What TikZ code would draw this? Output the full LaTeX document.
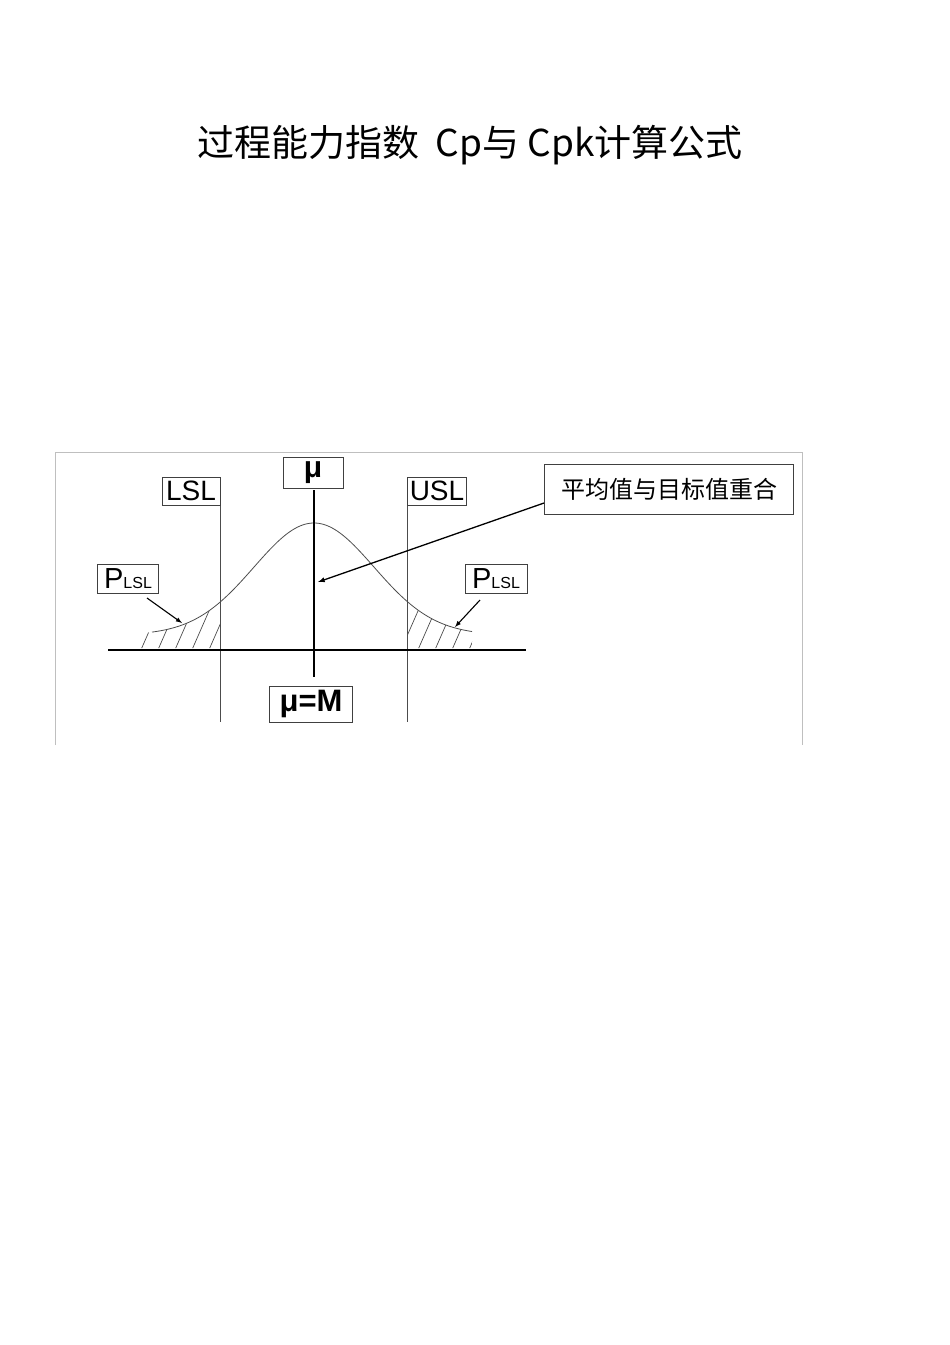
\documentclass[tikz,border=0pt]{standalone}
\usepackage{fontspec}
\setmainfont{Liberation Sans}
\newfontfamily\cjk{Noto Sans CJK SC}
\begin{document}
\begin{tikzpicture}[x=1pt,y=-1pt,
  lbl/.style={draw=black!75,line width=0.9pt,inner sep=1pt,font=\fontsize{28}{28}\selectfont},
  thin/.style={draw=black!70,line width=0.8pt}]
\useasboundingbox (0,0) rectangle (950,1345);
\node[font=\cjk\fontsize{37}{37}\selectfont] (title) at (470,145) {过程能力指数\ \ Cp与 Cpk计算公式};
\draw[black!25,line width=0.8pt] (55,745) -- (55,452) -- (802,452) -- (802,745);
% curve and hatching
\begin{scope}
\clip plot[domain=140:220,samples=40] (\x,{635-112*exp(-((\x-314)/60)^2/2)}) -- (220,648) -- (140,648) -- cycle;
\foreach \i in {0,...,8} \draw[black!70,line width=0.7pt] (140+\i*17,652) -- (165+\i*17,595);
\end{scope}
\begin{scope}
\clip plot[domain=407:472,samples=40] (\x,{635-112*exp(-((\x-314)/60)^2/2)}) -- (472,648) -- (407,648) -- cycle;
\foreach \i in {0,...,6} \draw[black!70,line width=0.7pt] (400+\i*17,652) -- (425+\i*17,595);
\end{scope}
\draw[thin] plot[domain=152:472,samples=120] (\x,{635-112*exp(-((\x-314)/60)^2/2)});
\coordinate (lslT) at (220,480); \coordinate (lslB) at (220,722);
\coordinate (uslT) at (407,480); \coordinate (uslB) at (407,722);
\draw[thin] (lslT) -- (lslB);
\draw[thin] (uslT) -- (uslB);
\coordinate (axL) at (108,650); \coordinate (axR) at (526,650);
\draw[line width=2pt] (axL) -- (axR);
\coordinate (muT) at (314,490); \coordinate (muB) at (314,677);
\draw[line width=2pt] (muT) -- (muB);
\node[lbl,minimum width=60,minimum height=31,font=\bfseries\fontsize{30}{30}\selectfont] (mu) at (313,473) {μ};
\node[lbl,minimum width=58,minimum height=28] (lsl) at (191,491) {LSL};
\node[lbl,minimum width=59,minimum height=28] (usl) at (437,491) {USL};
\node[lbl,minimum width=83,minimum height=36,font=\bfseries\fontsize{31}{31}\selectfont] (muM) at (311,704) {μ=M};
\node[lbl,minimum width=249,minimum height=50,font=\cjk\fontsize{24}{24}\selectfont] (note) at (669,489) {平均值与目标值重合};
\node[lbl,minimum width=61,minimum height=29] (pl) at (128,579) {\fontsize{29}{29}\selectfont P\fontsize{16}{16}\selectfont LSL};
\node[lbl,minimum width=62,minimum height=29] (pr) at (496,579) {\fontsize{29}{29}\selectfont P\fontsize{16}{16}\selectfont LSL};
\coordinate (pt1) at (318,582);
\coordinate (pt2) at (182,623);
\coordinate (pt3) at (455,627);
\draw[-latex,line width=1.3pt] (note.west |- 0,503) -- (pt1);
\draw[-latex,line width=1.1pt] (147,598) -- (pt2);
\draw[-latex,line width=1.1pt] (480,600) -- (pt3);
\end{tikzpicture}
\end{document}
